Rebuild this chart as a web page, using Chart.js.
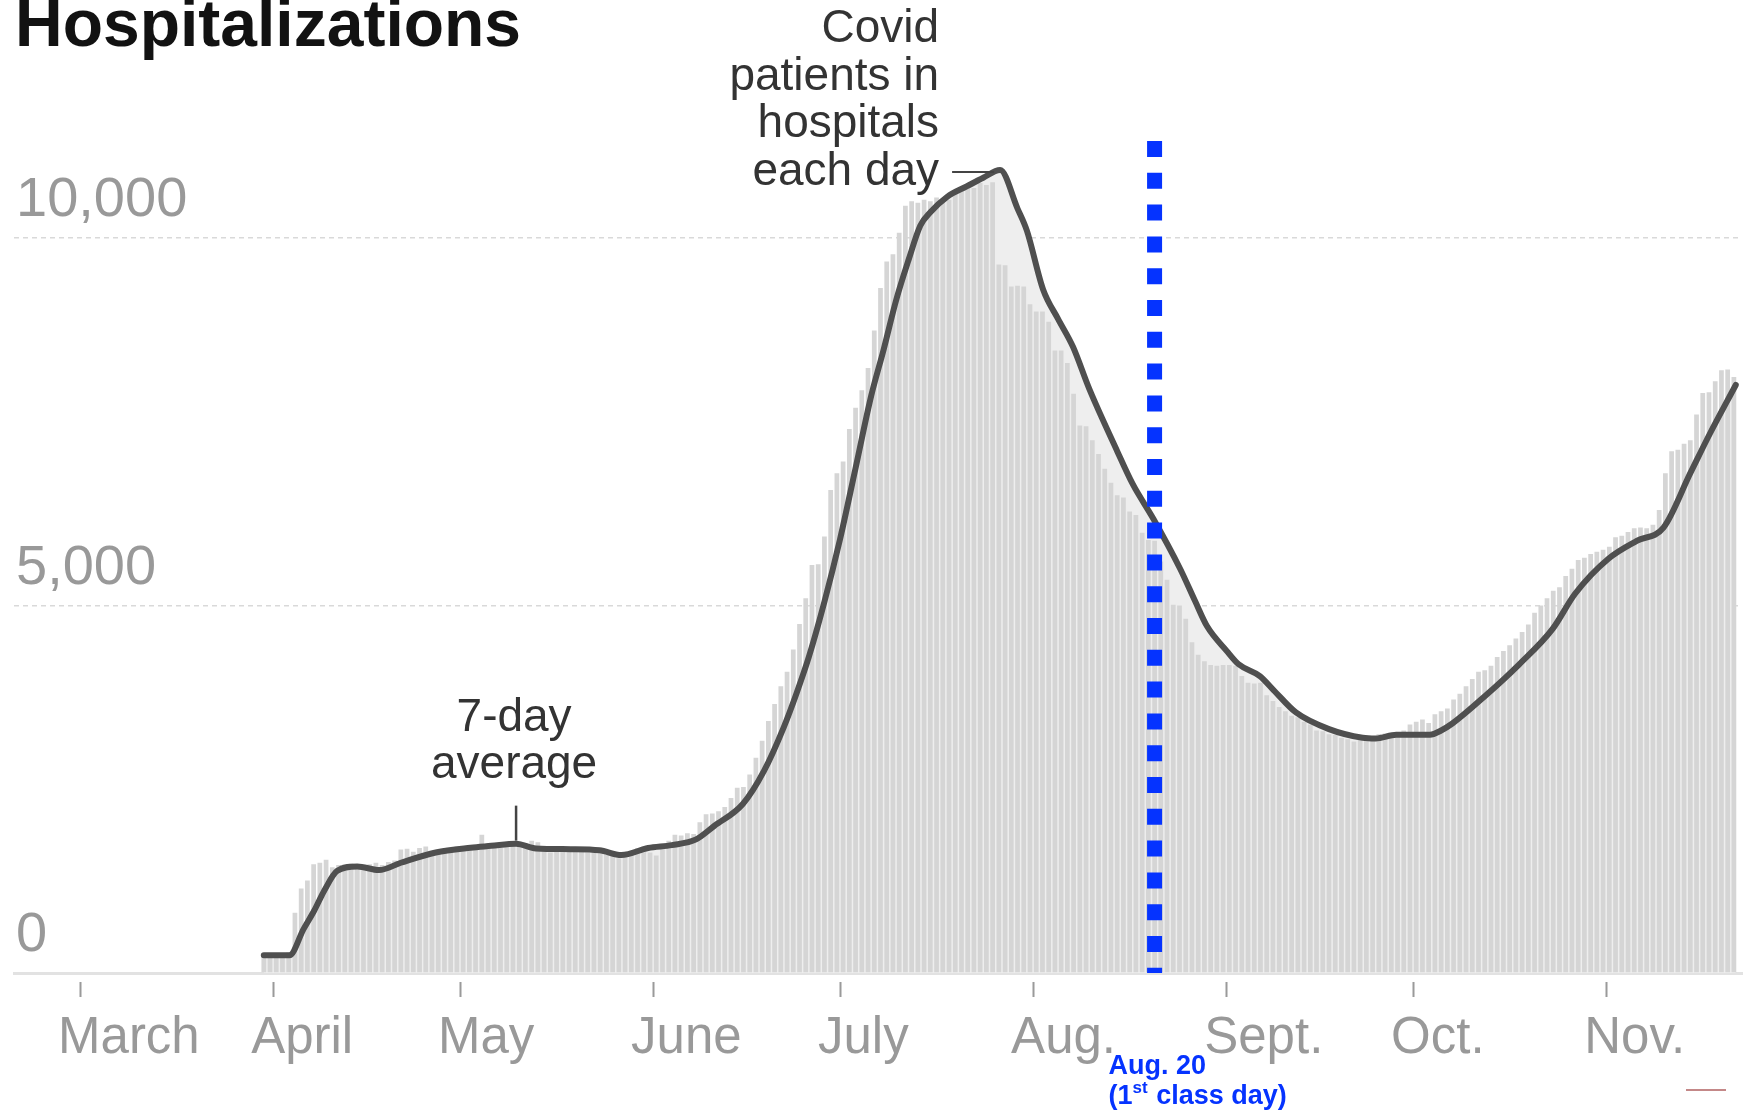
<!DOCTYPE html>
<html>
<head>
<meta charset="utf-8">
<title>Hospitalizations</title>
<script src="https://cdn.jsdelivr.net/npm/chart.js@4.4.1/dist/chart.umd.min.js"></script>
<style>
    html, body { margin: 0; padding: 0; background: #fff; }
    #wrap { position: relative; width: 1752px; height: 1113px; }
</style>
</head>
<body>
<div id="wrap"><canvas id="hospChart"></canvas></div>
<script>
/* ─── Axis setup (x values are days since March 1) ─── */
const monthLabels = ['March', 'April', 'May', 'June', 'July', 'Aug.', 'Sept.', 'Oct.', 'Nov.'];
const monthStarts = [0, 31, 61, 92, 122, 153, 184, 214, 245];
const yTicks = [0, 5000, 10000];

/* ─── Covid patients in hospitals each day, from March 30 ─── */
const firstDay = 29;
const hospMar = [230, 240];
const hospApr = [250, 260, 280, 820, 1150, 1260, 1480, 1500, 1540, 1440,
                 1470, 1480, 1490, 1420, 1400, 1480, 1500, 1470, 1510, 1530,
                 1680, 1690, 1650, 1700, 1720, 1660, 1640, 1700, 1690, 1720];
const hospMay = [1680, 1700, 1690, 1880, 1760, 1720, 1700, 1760, 1780, 1790,
                 1700, 1800, 1780, 1680, 1640, 1720, 1700, 1680, 1690, 1660,
                 1640, 1700, 1680, 1650, 1620, 1560, 1600, 1660, 1700, 1720, 1640];
const hospJun = [1600, 1740, 1800, 1880, 1870, 1900, 1890, 2050, 2160, 2170,
                 2200, 2260, 2380, 2520, 2530, 2700, 2930, 3160, 3430, 3660,
                 3900, 4100, 4400, 4750, 5100, 5550, 5560, 5940, 6570, 6800];
const hospJul = [6960, 7400, 7690, 7930, 8230, 8740, 9320, 9680, 9780, 10070,
                 10440, 10500, 10480, 10520, 10500, 10550, 10480, 10520, 10600, 10650,
                 10700, 10680, 10750, 10720, 10760, 9640, 9630, 9340, 9350, 9340, 9100];
const hospAug = [9000, 9000, 8860, 8470, 8470, 8300, 7880, 7450, 7440, 7250,
                 7060, 6860, 6670, 6500, 6470, 6280, 6230, 5990, 5890, 5880,
                 5600, 5350, 5010, 5000, 4820, 4500, 4330, 4240, 4190, 4180, 4190];
const hospSep = [4190, 4180, 4040, 3950, 3940, 3950, 3780, 3700, 3620, 3560,
                 3500, 3480, 3420, 3380, 3300, 3290, 3250, 3240, 3200, 3180,
                 3150, 3170, 3200, 3180, 3250, 3260, 3230, 3280, 3300, 3380];
const hospOct = [3420, 3450, 3400, 3520, 3560, 3600, 3720, 3800, 3900, 4000,
                 4100, 4120, 4180, 4300, 4380, 4460, 4550, 4640, 4740, 4900,
                 5000, 5100, 5200, 5250, 5400, 5500, 5620, 5650, 5700, 5730, 5760];
const hospNov = [5800, 5930, 5950, 6000, 6050, 6060, 6050, 6100, 6300, 6800,
                 7100, 7120, 7200, 7250, 7600, 7890, 7900, 8050, 8200, 8210, 8110];

/* ─── 7-day average ─── */
const avgDays = [29.5, 33.6, 35.9, 37.6, 39.2, 41.3, 44.5, 48, 51.5, 57.1,
                 62.7, 66, 70, 73.2, 78.8, 83.4, 86.9, 91.2, 95, 98.9,
                 101.8, 106.4, 109.8, 113, 115, 117, 119.5, 122, 124.5, 127,
                 129, 131, 133, 134.9, 136.5, 139.2, 142.4, 145, 147.7, 150.5,
                 152, 154.6, 157, 159.4, 162, 166.5, 169, 172.3, 176.6, 179,
                 180.9, 184.1, 186, 189.4, 191.6, 195.2, 200.5, 205.9, 208, 211.3,
                 216.7, 218.5, 220.3, 225.6, 231, 236.4, 240, 245.4, 249.9, 254.2,
                 258.5, 261.7, 265.8];
const avgValues = [240, 240, 600, 850, 1120, 1390, 1450, 1400, 1500, 1640,
                   1705, 1730, 1760, 1695, 1685, 1670, 1605, 1700, 1740, 1818,
                   2000, 2300, 2750, 3350, 3800, 4300, 5050, 5900, 6870, 7850,
                   8480, 9150, 9700, 10170, 10350, 10560, 10705, 10820, 10924, 10400,
                   10100, 9300, 8900, 8520, 7950, 7100, 6650, 6180, 5500, 5060,
                   4720, 4380, 4200, 4040, 3850, 3545, 3318, 3200, 3190, 3240,
                   3242, 3300, 3394, 3772, 4197, 4682, 5160, 5640, 5880, 6060,
                   6800, 7347, 8000];

/* ─── Annotations ─── */
const titleText = 'Hospitalizations';
const peakNote = ['Covid', 'patients in', 'hospitals', 'each day'];
const avgNote = ['7-day', 'average'];
const avgNoteDay = 70;
const classStartDay = 172;          // Aug. 20
const markerTop = 11320;

const FONT = '"Liberation Sans", Arial, Helvetica, sans-serif';
const BLUE = '#0533ff';

(function () {
    'use strict';

    const hospDaily = [].concat(hospMar, hospApr, hospMay, hospJun, hospJul,
                                hospAug, hospSep, hospOct, hospNov);
    const barPoints = hospDaily.map((v, i) => ({ x: firstDay + i + 0.5, y: v }));
    const avgPoints = avgDays.map((d, i) => ({ x: d, y: avgValues[i] }));

    /* ─── Title, notes and the class-day marker ─── */
    const overlay = {
        id: 'overlay',
        afterDraw(chart) {
            const { ctx, scales: { x, y } } = chart;
            ctx.save();

            ctx.fillStyle = '#121212';
            ctx.font = 'bold 66px ' + FONT;
            ctx.textAlign = 'left';
            ctx.textBaseline = 'alphabetic';
            ctx.fillText(titleText, 15, 46);

            /* peak note + leader */
            let pk = 0;
            avgValues.forEach((v, i) => { if (v > avgValues[pk]) pk = i; });
            const px = x.getPixelForValue(avgDays[pk]);
            const py = y.getPixelForValue(avgValues[pk]);
            ctx.fillStyle = '#333';
            ctx.font = '46px ' + FONT;
            ctx.textAlign = 'right';
            peakNote.forEach((t, i) => ctx.fillText(t, px - 61, py - 128 + i * 47.7));
            ctx.strokeStyle = '#444';
            ctx.lineWidth = 2;
            ctx.beginPath();
            ctx.moveTo(px - 48, py + 2);
            ctx.lineTo(px - 6, py + 2);
            ctx.stroke();

            /* 7-day average note + tick */
            const ax = x.getPixelForValue(avgNoteDay);
            const ay = y.getPixelForValue(1760);
            ctx.textAlign = 'center';
            ctx.fillText(avgNote[0], ax - 2, ay - 113);
            ctx.fillText(avgNote[1], ax - 2, ay - 66);
            ctx.lineWidth = 2.5;
            ctx.beginPath();
            ctx.moveTo(ax, ay - 38);
            ctx.lineTo(ax, ay - 3);
            ctx.stroke();

            /* Aug. 20 dotted marker */
            const mx = x.getPixelForValue(classStartDay + 0.5);
            ctx.strokeStyle = BLUE;
            ctx.lineWidth = 15;
            ctx.setLineDash([16, 15.8]);
            ctx.beginPath();
            ctx.moveTo(mx, y.getPixelForValue(markerTop));
            ctx.lineTo(mx, y.getPixelForValue(0));
            ctx.stroke();
            ctx.setLineDash([]);

            ctx.fillStyle = BLUE;
            ctx.textAlign = 'left';
            ctx.font = 'bold 27px ' + FONT;
            const tx = mx - 46;
            ctx.fillText('Aug. 20', tx, 1074);
            let cx = tx;
            ctx.fillText('(1', cx, 1104);
            cx += ctx.measureText('(1').width;
            ctx.font = 'bold 17px ' + FONT;
            ctx.fillText('st', cx, 1093);
            cx += ctx.measureText('st').width + 1;
            ctx.font = 'bold 27px ' + FONT;
            ctx.fillText(' class day)', cx, 1104);

            /* stray mark at the foot of the picture */
            ctx.strokeStyle = '#b06060';
            ctx.lineWidth = 1.5;
            ctx.beginPath();
            ctx.moveTo(1686, 1090);
            ctx.lineTo(1726, 1090);
            ctx.stroke();

            ctx.restore();
        }
    };

    const ctx = document.getElementById('hospChart').getContext('2d');
    new Chart(ctx, {
        type: 'bar',
        data: {
            datasets: [{
                type: 'line',
                label: '7-day average',
                data: avgPoints,
                borderColor: '#4f4f4f',
                borderWidth: 6,
                borderJoinStyle: 'round',
                borderCapStyle: 'round',
                cubicInterpolationMode: 'monotone',
                pointRadius: 0,
                fill: 'origin',
                backgroundColor: '#eeeeee',
                order: 0
            }, {
                type: 'bar',
                label: 'Covid patients in hospitals each day',
                data: barPoints,
                backgroundColor: '#d5d5d5',
                barPercentage: 0.95,
                categoryPercentage: 0.8,
                order: 1
            }]
        },
        options: {
            responsive: true,
            maintainAspectRatio: false,
            animation: false,
            layout: { padding: { left: 14, right: 10, top: 17.5, bottom: 0 } },
            plugins: {
                legend: { display: false },
                tooltip: { enabled: false },
                filler: { drawTime: 'beforeDatasetsDraw' }
            },
            scales: {
                x: {
                    type: 'linear',
                    position: 'bottom',
                    offset: false,
                    min: -10.6,
                    max: 266.8,
                    afterBuildTicks: (s) => { s.ticks = monthStarts.map(v => ({ value: v })); },
                    afterFit: (s) => { s.height = 140; s.paddingLeft = 0; s.paddingRight = 0; },
                    grid: {
                        offset: false,
                        drawOnChartArea: false,
                        drawTicks: true,
                        tickLength: 24,
                        tickColor: '#9a9a9a',
                        tickWidth: 2,
                        tickBorderDash: [0, 7, 17, 80]
                    },
                    border: { display: true, color: '#e2e2e2', width: 3 },
                    ticks: {
                        autoSkip: false,
                        maxRotation: 0,
                        align: 'start',
                        labelOffset: -22,
                        padding: 11,
                        color: '#999',
                        font: { family: FONT, size: 51 },
                        callback: (v, i) => monthLabels[i]
                    }
                },
                y: {
                    position: 'left',
                    min: 0,
                    max: 13000,
                    afterBuildTicks: (s) => { s.ticks = yTicks.map(v => ({ value: v })); },
                    afterFit: (s) => { s.width = 0; s.paddingTop = 0; s.paddingBottom = 0; },
                    grid: {
                        drawTicks: false,
                        lineWidth: 1.5,
                        color: (c) => (c.tick && c.tick.value === 0) ? 'rgba(0,0,0,0)' : '#d9d9d9'
                    },
                    border: { display: false, dash: [5, 4] },
                    ticks: {
                        mirror: true,
                        padding: 2,
                        labelOffset: -37,
                        color: '#999',
                        font: { family: FONT, size: 56 },
                        callback: (v) => v.toLocaleString('en-US')
                    }
                }
            }
        },
        plugins: [overlay]
    });
})();
</script>
</body>
</html>
